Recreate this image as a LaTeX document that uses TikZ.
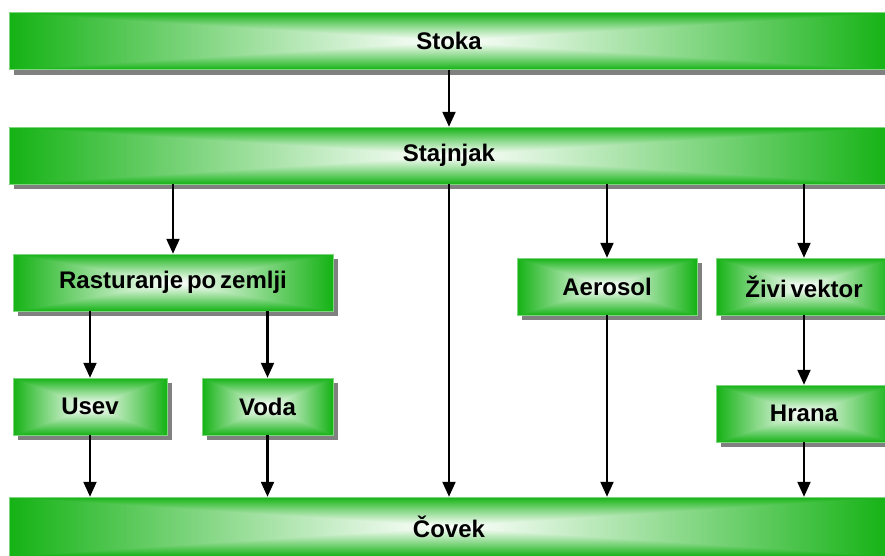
\documentclass[tikz,border=0pt]{standalone}
\usepackage{fontspec}
\setmainfont{Liberation Sans}
\usetikzlibrary{arrows.meta,positioning,shadows}
\definecolor{boxgreen}{RGB}{20,180,20}
\newcommand\boxfont{\fontsize{24}{28}\selectfont\bfseries\spaceskip 0.16em\relax}
\pgfdeclarefunctionalshading{boxfade}{\pgfpoint{-50bp}{-50bp}}{\pgfpoint{50bp}{50bp}}{}{
  abs exch abs 2 copy lt {exch} if pop 25 div dup 1 gt {pop 1} if 1.1 exp
  dup 0.92 mul 1 exch sub
  exch dup 0.30 mul 1 exch sub
  exch 0.92 mul 1 exch sub
}

\begin{document}
\begin{tikzpicture}[
  x=1pt, y=-1pt,
  box/.style={shade, shading=boxfade, draw=boxgreen!55!white, line width=0.5pt,
    minimum height=57pt, inner sep=0pt, font=\boxfont,
    drop shadow={shadow xshift=5pt, shadow yshift=-5pt, fill=black!50, opacity=1}},
  flow/.style={draw, -{Triangle[length=15pt,width=13pt]}, line width=2.2pt}
]
  \useasboundingbox (0,0) rectangle (885,555);
  \clip (0,0) rectangle (885,555);
  % bars across the full width
  \node[box, minimum width=880pt] (stoka) at (449,41) {Stoka};
  \node[box, minimum width=880pt] (stajnjak) at (449,155.5) {Stajnjak};
  \node[box, minimum width=880pt, minimum height=59pt] (covek) at (449,526.5) {Čovek};
  % middle boxes
  \node[box, minimum width=320pt] (rasturanje) at (173,282.5) {Rasturanje po zemlji};
  \node[box, minimum width=154pt] (usev) at (90,406.5) {Usev};
  \node[box, minimum width=131pt] (voda) at (267.5,406.5) {Voda};
  \node[box, minimum width=180pt] (aerosol) at (607,286.5) {Aerosol};
  \node[box, minimum width=176pt] (vektor) at (804,286.5) {Živi vektor};
  \node[box, minimum width=176pt] (hrana) at (804,413.5) {Hrana};

  \draw[flow] (stoka) -- (stajnjak);
  \draw[flow] (stajnjak.south -| rasturanje.north) -- (rasturanje.north);
  \draw[flow] (stajnjak) -- (covek);
  \draw[flow] (stajnjak.south -| aerosol.north) -- (aerosol.north);
  \draw[flow] (stajnjak.south -| vektor.north) -- (vektor.north);
  \draw[flow] (rasturanje.south -| usev.north) -- (usev.north);
  \draw[flow] (rasturanje.south -| voda.north) -- (voda.north);
  \draw[flow] (vektor) -- (hrana);
  \foreach \src in {usev,voda,aerosol,hrana}
    \draw[flow] (\src.south) -- (\src.south |- covek.north);
\end{tikzpicture}
\end{document}
